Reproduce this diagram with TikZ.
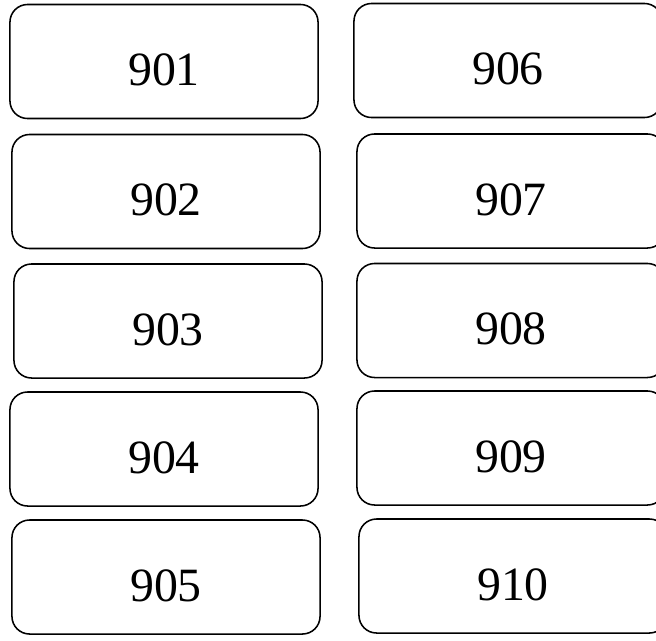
\documentclass[tikz,border=0pt]{standalone}
\usepackage{fontspec}
\setmainfont{Liberation Serif}
\usepackage{tikz}
\usetikzlibrary{positioning}

\begin{document}
\begin{tikzpicture}[
    x=0.025cm, y=-0.025cm,
    card/.style={draw=black, line width=1.1pt, rounded corners=0.44cm,
                 minimum width=7.7cm, minimum height=2.85cm, inner sep=0pt,
                 text height=1.2cm, text depth=0pt,
                 font=\fontsize{34}{40}\selectfont}
]
\useasboundingbox (0,0) rectangle (656,640);
\clip (0,0) rectangle (656,640);
% left column
\node[card] (c901) at (164,61.5)  {901};
\node[card] (c902) at (166,191.5) {902};
\node[card] (c903) at (168,321)   {903};
\node[card] (c904) at (164,449)   {904};
\node[card] (c905) at (166,577)   {905};
% right column
\node[card] (c906) at (508,60.5)  {906};
\node[card] (c907) at (511,191)   {907};
\node[card] (c908) at (511,320.5) {908};
\node[card] (c909) at (511,448)   {909};
\node[card] (c910) at (513,576)   {910};
\end{tikzpicture}
\end{document}
